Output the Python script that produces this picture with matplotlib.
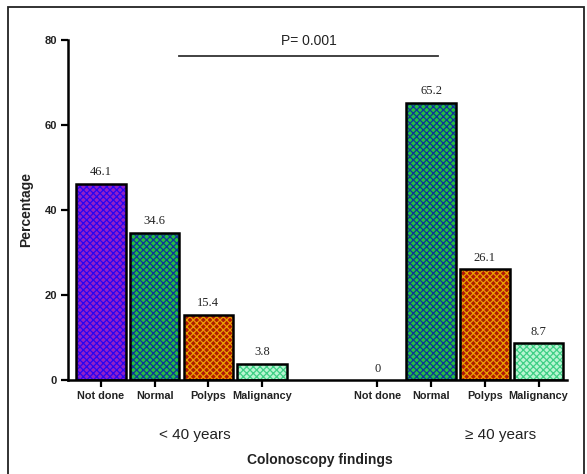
import matplotlib
matplotlib.use("Agg")
import matplotlib.pyplot as plt
from matplotlib.patches import Rectangle
import numpy as np

categories = ["Not done", "Normal", "Polyps", "Malignancy"]
groups = ["< 40 years", "\u2265 40 years"]
under40 = [46.1, 34.6, 15.4, 3.8]
over40 = [0, 65.2, 26.1, 8.7]
value_labels_under40 = ["46.1", "34.6", "15.4", "3.8"]
value_labels_over40 = ["0", "65.2", "26.1", "8.7"]
p_text = "P= 0.001"
yticks = [0, 20, 40, 60, 80]

# dominant (grid) colour and dot colour of each checkered fill
grid_col = ["#2a05f0", "#10359a", "#e8a000", "#3fcf85"]
dot_col = ["#9020c8", "#25c040", "#b01808", "#b8f5d2"]

plt.rcParams["hatch.linewidth"] = 0.9

narrow = ["Liberation Sans Narrow", "Liberation Sans", "DejaVu Sans"]
sans = ["Liberation Sans", "DejaVu Sans"]
serif = ["Liberation Serif", "DejaVu Serif"]

fig = plt.figure(figsize=(5.87, 4.74), dpi=100)
ax = fig.add_axes([0.116, 0.198, 0.850, 0.718])

gap = 5.14
x1 = np.arange(4, dtype=float)
x2 = x1 + gap
width = 0.92

for xs, vals, labs in [(x1, under40, value_labels_under40), (x2, over40, value_labels_over40)]:
    for i, (x, v, lab) in enumerate(zip(xs, vals, labs)):
        if v > 0:
            ax.bar(x, v, width=width, color=dot_col[i], edgecolor=grid_col[i],
                   hatch="xxxxx", linewidth=0, zorder=2)
            ax.bar(x, v, width=width, fill=False, edgecolor="black",
                   linewidth=1.8, zorder=3)
        ax.annotate(lab, (x, v), xytext=(0, 4), textcoords="offset points",
                    ha="center", va="bottom", fontsize=9, family=serif,
                    color="#222222")

ax.set_xlim(-0.61, 8.67)
ax.set_ylim(0, 80)
ax.set_yticks(yticks)
ax.set_yticklabels([str(t) for t in yticks], fontsize=8, fontweight="bold",
                   family=sans, color="#222222")
ax.set_xticks(list(x1) + list(x2))
ax.set_xticklabels(categories + categories, fontsize=7.8, fontweight="bold",
                   family=narrow, color="#222222")
ax.tick_params(axis="both", direction="out", length=5, width=1.6, pad=3)
for s in ["top", "right"]:
    ax.spines[s].set_visible(False)
for s in ["left", "bottom"]:
    ax.spines[s].set_linewidth(1.8)

ax.set_ylabel("Percentage", fontsize=10, fontweight="bold", family=sans,
              labelpad=8, color="#222222")

# significance bar
ax.plot([1.455, 6.27], [76.1, 76.1], color="#333333", lw=1.3, clip_on=False)
ax.text((1.455 + 6.27) / 2, 78.0, p_text, ha="center", va="bottom",
        fontsize=10, family=narrow, color="#222222")

# group labels
ax.text(np.mean(x1) + 0.25, -12.8, groups[0], ha="center", va="center",
        fontsize=11, family=narrow, color="#222222")
ax.text(np.mean(x2) + 0.8, -12.8, groups[1], ha="center", va="center",
        fontsize=11, family=narrow, color="#222222")
fig.text(320 / 587, 1 - 460 / 474, "Colonoscopy findings", ha="center",
         va="center", fontsize=10, fontweight="bold", family=narrow,
         color="#222222")

# outer frame
fig.patches.append(Rectangle((8 / 587, -0.02), (584 - 8) / 587, 1 - 7 / 474 + 0.02,
                             transform=fig.transFigure, fill=False,
                             edgecolor="#222222", linewidth=1.3))

fig.savefig("out.png", dpi=100)
